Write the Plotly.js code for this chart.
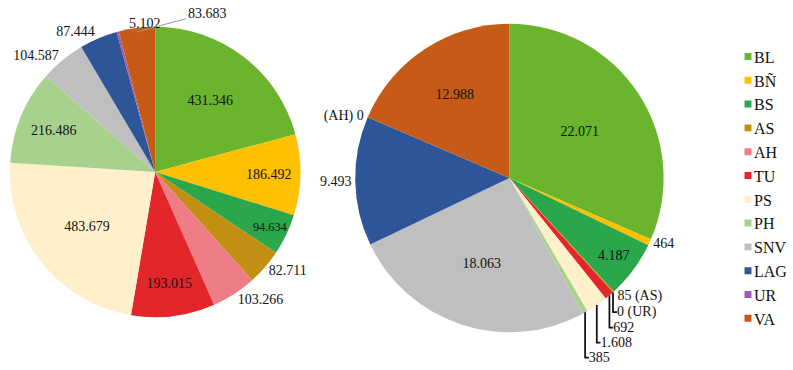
<!DOCTYPE html>
<html><head><meta charset="utf-8">
<script src="https://cdn.plot.ly/plotly-3.0.1.min.js"></script>
<style>html,body{margin:0;padding:0;background:#fff;}#chart{width:793px;height:370px;}
.legendpie{transform: translate(34px,0px) scale(0.58);}
</style>
</head><body><div id="chart"></div>
<script>
// Categories (legend order)
const categories = ['BL','BÑ','BS','AS','AH','TU','PS','PH','SNV','LAG','UR','VA'];
const colors = ['#6AB42E','#FFC000','#2AA64B','#C38F12','#EE7D87','#E3262A','#FFF0CC','#A9D18E','#BFBFBF','#2E5597','#A05AB0','#C55B16'];
// Left pie values (same order as categories)
const leftValues = [431346,186492,94634,82711,103266,193015,483679,216486,104587,87444,5102,83683];
const leftPos = ['inside','inside','inside','outside','outside','inside','inside','inside','outside','outside','none','none'];
// Right pie (order as drawn clockwise)
const rightLabels = ['BL','BÑ','BS','AS','UR','TU','PS','PH','SNV','LAG','AH','VA'];
const rightValues = [22071,464,4187,85,0,692,1608,385,18063,9493,0,12988];
const rightPos = ['inside','outside','inside','outside','outside','outside','outside','outside','inside','outside','outside','inside'];
const rightNamed = {AS:'after', UR:'after', AH:'before'};

const fmt = v => String(v).replace(/\B(?=(\d{3})+(?!\d))/g,'.');
const colorOf = l => colors[categories.indexOf(l)];

const leftText = leftValues.map(fmt);
const rightText = rightValues.map((v,i)=>{
  const l = rightLabels[i], s = fmt(v);
  if (rightNamed[l]==='after') return s+' ('+l+')';
  if (rightNamed[l]==='before') return '('+l+') '+s;
  return s;
});

const font = {family:'Liberation Serif, Times New Roman, serif', size:14, color:'#111'};
const traces = [
 {type:'pie', labels:categories, values:leftValues, text:leftText, textinfo:'text',
  textposition:leftPos, sort:false, direction:'clockwise', rotation:0,
  marker:{colors:colors, line:{width:0}}, insidetextorientation:'horizontal',
  textfont:font, domain:{x:[0.0126,0.3808], y:[0.1405,0.9297]}, hoverinfo:'label+value'},
 {type:'pie', labels:rightLabels, values:rightValues, text:rightText, textinfo:'text',
  textposition:rightPos, sort:false, direction:'clockwise', rotation:0,
  marker:{colors:rightLabels.map(colorOf), line:{width:0}}, insidetextorientation:'horizontal',
  textfont:font, domain:{x:[0.4502,0.8411], y:[0.10,0.9378]}, hoverinfo:'label+value'}
];
// labels of the two thin top slices of the left pie, placed as in the reference
const iUR = categories.indexOf('UR'), iVA = categories.indexOf('VA');
const annotations = [
  {text:leftText[iUR], xref:'paper', yref:'paper', x:128/793, y:1-14/370, showarrow:false, font:font},
  {text:leftText[iVA], xref:'paper', yref:'paper', x:137/793, y:1-32/370, showarrow:true,
   arrowhead:0, arrowwidth:1, arrowcolor:'#999', ax:71, ay:-19, standoff:0, font:font}
];
const layout = {
  width:793, height:370, margin:{l:0,r:0,t:0,b:0},
  paper_bgcolor:'#fff', plot_bgcolor:'#fff',
  showlegend:true, annotations:annotations,
  legend:{x:0.905, xanchor:'left', y:0.493, yanchor:'middle', font:{family:'Liberation Serif, Times New Roman, serif', size:16, color:'#111'}, traceorder:'normal'},
  font:font
};
Plotly.newPlot('chart', traces, layout, {staticPlot:true});
</script></body></html>
